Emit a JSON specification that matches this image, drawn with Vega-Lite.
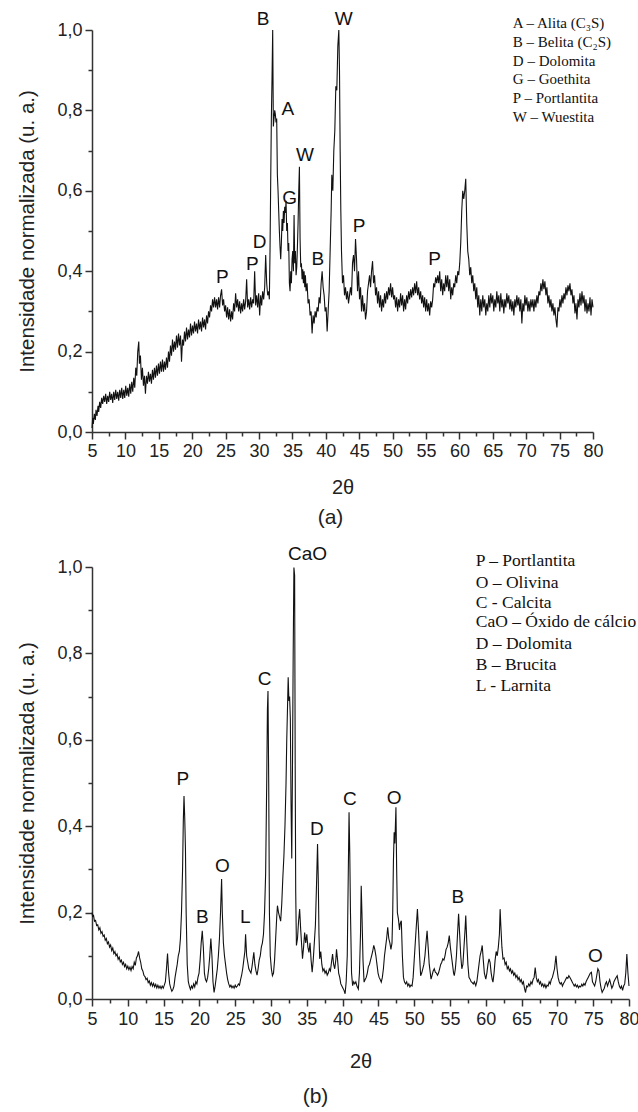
{
"$schema": "https://vega.github.io/schema/vega-lite/v6.json",
"background": "white",
"padding": {"left": 17, "top": 10, "right": 0, "bottom": 0},
"spacing": 17,
"config": {
 "view": {"stroke": null},
 "axis": {"grid": false, "domainColor": "#333", "tickColor": "#333", "domainWidth": 1.5, "tickWidth": 1.5, "labelColor": "#222", "labelFont": "Liberation Sans", "labelFontSize": 18, "titleFont": "Liberation Sans", "titleFontSize": 20, "titleFontWeight": "normal", "titleColor": "#222", "labelFlush": false, "labelOverlap": false},
 "title": {"font": "Liberation Sans", "fontSize": 21, "fontWeight": "normal", "color": "#222"}
},
"datasets": {
"a": [
{"x":5.0,"y":0.01},{"x":5.1,"y":0.035},{"x":5.2,"y":0.02},{"x":5.35,"y":0.045},{"x":5.5,"y":0.03},{"x":5.6,"y":0.055},{"x":5.75,"y":0.04},{"x":5.9,"y":0.065},{"x":6.0,"y":0.05},{"x":6.15,"y":0.075},{"x":6.3,"y":0.06},{"x":6.45,"y":0.085},{"x":6.6,"y":0.07},{"x":6.75,"y":0.09},{"x":6.9,"y":0.075},{"x":7.05,"y":0.095},{"x":7.2,"y":0.07},{"x":7.35,"y":0.09},{"x":7.5,"y":0.075},{"x":7.65,"y":0.1},{"x":7.8,"y":0.08},{"x":7.95,"y":0.095},{"x":8.1,"y":0.072},{"x":8.25,"y":0.1},{"x":8.4,"y":0.08},{"x":8.55,"y":0.105},{"x":8.7,"y":0.082},{"x":8.85,"y":0.1},{"x":9.0,"y":0.078},{"x":9.15,"y":0.105},{"x":9.3,"y":0.085},{"x":9.45,"y":0.11},{"x":9.6,"y":0.082},{"x":9.75,"y":0.105},{"x":9.9,"y":0.085},{"x":10.05,"y":0.115},{"x":10.2,"y":0.09},{"x":10.35,"y":0.11},{"x":10.5,"y":0.088},{"x":10.65,"y":0.12},{"x":10.8,"y":0.095},{"x":10.95,"y":0.125},{"x":11.1,"y":0.1},{"x":11.25,"y":0.135},{"x":11.4,"y":0.11},{"x":11.55,"y":0.16},{"x":11.7,"y":0.14},{"x":11.85,"y":0.2},{"x":12.0,"y":0.225},{"x":12.1,"y":0.17},{"x":12.25,"y":0.19},{"x":12.4,"y":0.13},{"x":12.55,"y":0.16},{"x":12.7,"y":0.115},{"x":12.85,"y":0.14},{"x":13.0,"y":0.095},{"x":13.15,"y":0.14},{"x":13.3,"y":0.12},{"x":13.45,"y":0.15},{"x":13.6,"y":0.125},{"x":13.75,"y":0.145},{"x":13.9,"y":0.12},{"x":14.05,"y":0.155},{"x":14.2,"y":0.13},{"x":14.35,"y":0.16},{"x":14.5,"y":0.135},{"x":14.65,"y":0.165},{"x":14.8,"y":0.14},{"x":14.95,"y":0.17},{"x":15.1,"y":0.145},{"x":15.25,"y":0.175},{"x":15.4,"y":0.15},{"x":15.55,"y":0.18},{"x":15.7,"y":0.15},{"x":15.85,"y":0.175},{"x":16.0,"y":0.155},{"x":16.15,"y":0.185},{"x":16.3,"y":0.16},{"x":16.45,"y":0.2},{"x":16.6,"y":0.175},{"x":16.75,"y":0.215},{"x":16.9,"y":0.19},{"x":17.05,"y":0.23},{"x":17.2,"y":0.2},{"x":17.35,"y":0.225},{"x":17.5,"y":0.205},{"x":17.65,"y":0.24},{"x":17.8,"y":0.21},{"x":17.95,"y":0.245},{"x":18.1,"y":0.215},{"x":18.25,"y":0.24},{"x":18.4,"y":0.175},{"x":18.55,"y":0.23},{"x":18.7,"y":0.215},{"x":18.85,"y":0.25},{"x":19.0,"y":0.225},{"x":19.15,"y":0.26},{"x":19.3,"y":0.23},{"x":19.45,"y":0.255},{"x":19.6,"y":0.235},{"x":19.75,"y":0.27},{"x":19.9,"y":0.24},{"x":20.05,"y":0.265},{"x":20.2,"y":0.245},{"x":20.35,"y":0.275},{"x":20.5,"y":0.25},{"x":20.65,"y":0.27},{"x":20.8,"y":0.245},{"x":20.95,"y":0.28},{"x":21.1,"y":0.255},{"x":21.25,"y":0.275},{"x":21.4,"y":0.25},{"x":21.55,"y":0.285},{"x":21.7,"y":0.26},{"x":21.85,"y":0.28},{"x":22.0,"y":0.255},{"x":22.15,"y":0.29},{"x":22.3,"y":0.27},{"x":22.45,"y":0.3},{"x":22.6,"y":0.285},{"x":22.75,"y":0.315},{"x":22.9,"y":0.3},{"x":23.05,"y":0.33},{"x":23.2,"y":0.31},{"x":23.35,"y":0.335},{"x":23.5,"y":0.31},{"x":23.65,"y":0.33},{"x":23.8,"y":0.305},{"x":23.95,"y":0.335},{"x":24.1,"y":0.31},{"x":24.25,"y":0.34},{"x":24.4,"y":0.355},{"x":24.55,"y":0.315},{"x":24.7,"y":0.33},{"x":24.85,"y":0.3},{"x":25.0,"y":0.315},{"x":25.15,"y":0.285},{"x":25.3,"y":0.31},{"x":25.45,"y":0.28},{"x":25.6,"y":0.305},{"x":25.75,"y":0.275},{"x":25.9,"y":0.3},{"x":26.05,"y":0.28},{"x":26.2,"y":0.32},{"x":26.35,"y":0.3},{"x":26.5,"y":0.345},{"x":26.65,"y":0.31},{"x":26.8,"y":0.33},{"x":26.95,"y":0.3},{"x":27.1,"y":0.325},{"x":27.25,"y":0.295},{"x":27.4,"y":0.32},{"x":27.55,"y":0.3},{"x":27.7,"y":0.33},{"x":27.85,"y":0.305},{"x":28.0,"y":0.325},{"x":28.15,"y":0.38},{"x":28.3,"y":0.31},{"x":28.45,"y":0.33},{"x":28.6,"y":0.305},{"x":28.75,"y":0.335},{"x":28.9,"y":0.31},{"x":29.05,"y":0.33},{"x":29.2,"y":0.32},{"x":29.35,"y":0.4},{"x":29.5,"y":0.315},{"x":29.65,"y":0.34},{"x":29.8,"y":0.31},{"x":29.95,"y":0.345},{"x":30.1,"y":0.29},{"x":30.25,"y":0.34},{"x":30.4,"y":0.315},{"x":30.55,"y":0.35},{"x":30.7,"y":0.33},{"x":30.85,"y":0.36},{"x":31.0,"y":0.44},{"x":31.15,"y":0.37},{"x":31.3,"y":0.34},{"x":31.45,"y":0.35},{"x":31.55,"y":0.33},{"x":31.65,"y":0.45},{"x":31.75,"y":0.62},{"x":31.85,"y":0.78},{"x":31.95,"y":0.88},{"x":32.05,"y":1.0},{"x":32.15,"y":0.76},{"x":32.25,"y":0.78},{"x":32.35,"y":0.8},{"x":32.45,"y":0.79},{"x":32.55,"y":0.77},{"x":32.65,"y":0.78},{"x":32.75,"y":0.64},{"x":32.85,"y":0.6},{"x":32.95,"y":0.55},{"x":33.05,"y":0.5},{"x":33.15,"y":0.46},{"x":33.25,"y":0.43},{"x":33.35,"y":0.47},{"x":33.45,"y":0.53},{"x":33.55,"y":0.5},{"x":33.65,"y":0.55},{"x":33.75,"y":0.52},{"x":33.85,"y":0.56},{"x":33.95,"y":0.545},{"x":34.05,"y":0.575},{"x":34.15,"y":0.5},{"x":34.25,"y":0.52},{"x":34.35,"y":0.45},{"x":34.45,"y":0.47},{"x":34.55,"y":0.37},{"x":34.65,"y":0.35},{"x":34.75,"y":0.4},{"x":34.85,"y":0.37},{"x":34.95,"y":0.43},{"x":35.05,"y":0.45},{"x":35.15,"y":0.4},{"x":35.25,"y":0.54},{"x":35.35,"y":0.42},{"x":35.45,"y":0.45},{"x":35.55,"y":0.39},{"x":35.65,"y":0.41},{"x":35.75,"y":0.46},{"x":35.85,"y":0.52},{"x":35.95,"y":0.6},{"x":36.05,"y":0.66},{"x":36.15,"y":0.48},{"x":36.25,"y":0.41},{"x":36.35,"y":0.42},{"x":36.45,"y":0.38},{"x":36.55,"y":0.405},{"x":36.65,"y":0.37},{"x":36.75,"y":0.4},{"x":36.85,"y":0.36},{"x":36.95,"y":0.39},{"x":37.05,"y":0.35},{"x":37.2,"y":0.37},{"x":37.35,"y":0.32},{"x":37.5,"y":0.33},{"x":37.65,"y":0.29},{"x":37.8,"y":0.3},{"x":37.95,"y":0.245},{"x":38.1,"y":0.29},{"x":38.25,"y":0.27},{"x":38.4,"y":0.3},{"x":38.55,"y":0.285},{"x":38.7,"y":0.31},{"x":38.85,"y":0.3},{"x":39.0,"y":0.335},{"x":39.15,"y":0.32},{"x":39.3,"y":0.37},{"x":39.45,"y":0.4},{"x":39.6,"y":0.36},{"x":39.75,"y":0.34},{"x":39.9,"y":0.3},{"x":40.05,"y":0.31},{"x":40.2,"y":0.25},{"x":40.35,"y":0.3},{"x":40.5,"y":0.35},{"x":40.65,"y":0.45},{"x":40.8,"y":0.55},{"x":40.9,"y":0.64},{"x":41.05,"y":0.6},{"x":41.2,"y":0.7},{"x":41.35,"y":0.75},{"x":41.5,"y":0.86},{"x":41.65,"y":0.85},{"x":41.8,"y":0.96},{"x":41.95,"y":1.0},{"x":42.05,"y":0.9},{"x":42.15,"y":0.7},{"x":42.25,"y":0.55},{"x":42.35,"y":0.45},{"x":42.5,"y":0.37},{"x":42.65,"y":0.39},{"x":42.8,"y":0.34},{"x":42.95,"y":0.36},{"x":43.1,"y":0.33},{"x":43.25,"y":0.35},{"x":43.4,"y":0.32},{"x":43.55,"y":0.34},{"x":43.7,"y":0.36},{"x":43.85,"y":0.34},{"x":44.0,"y":0.42},{"x":44.15,"y":0.44},{"x":44.3,"y":0.4},{"x":44.45,"y":0.48},{"x":44.6,"y":0.43},{"x":44.75,"y":0.35},{"x":44.9,"y":0.4},{"x":45.05,"y":0.33},{"x":45.2,"y":0.36},{"x":45.35,"y":0.3},{"x":45.5,"y":0.34},{"x":45.65,"y":0.3},{"x":45.8,"y":0.32},{"x":45.95,"y":0.28},{"x":46.1,"y":0.3},{"x":46.25,"y":0.35},{"x":46.4,"y":0.37},{"x":46.55,"y":0.39},{"x":46.7,"y":0.36},{"x":46.85,"y":0.4},{"x":47.0,"y":0.425},{"x":47.15,"y":0.37},{"x":47.3,"y":0.39},{"x":47.45,"y":0.34},{"x":47.6,"y":0.36},{"x":47.75,"y":0.32},{"x":47.9,"y":0.35},{"x":48.05,"y":0.31},{"x":48.2,"y":0.34},{"x":48.35,"y":0.3},{"x":48.5,"y":0.33},{"x":48.65,"y":0.31},{"x":48.8,"y":0.345},{"x":48.95,"y":0.32},{"x":49.1,"y":0.35},{"x":49.25,"y":0.33},{"x":49.4,"y":0.36},{"x":49.55,"y":0.34},{"x":49.7,"y":0.37},{"x":49.85,"y":0.335},{"x":50.0,"y":0.36},{"x":50.15,"y":0.33},{"x":50.3,"y":0.34},{"x":50.45,"y":0.31},{"x":50.6,"y":0.335},{"x":50.75,"y":0.3},{"x":50.9,"y":0.33},{"x":51.05,"y":0.31},{"x":51.2,"y":0.345},{"x":51.35,"y":0.315},{"x":51.5,"y":0.34},{"x":51.65,"y":0.3},{"x":51.8,"y":0.33},{"x":51.95,"y":0.305},{"x":52.1,"y":0.34},{"x":52.25,"y":0.32},{"x":52.4,"y":0.35},{"x":52.55,"y":0.33},{"x":52.7,"y":0.355},{"x":52.85,"y":0.335},{"x":53.0,"y":0.36},{"x":53.15,"y":0.34},{"x":53.3,"y":0.37},{"x":53.45,"y":0.345},{"x":53.6,"y":0.375},{"x":53.75,"y":0.34},{"x":53.9,"y":0.36},{"x":54.05,"y":0.33},{"x":54.2,"y":0.35},{"x":54.35,"y":0.32},{"x":54.5,"y":0.34},{"x":54.65,"y":0.31},{"x":54.8,"y":0.335},{"x":54.95,"y":0.3},{"x":55.1,"y":0.33},{"x":55.25,"y":0.3},{"x":55.4,"y":0.32},{"x":55.55,"y":0.29},{"x":55.7,"y":0.325},{"x":55.85,"y":0.31},{"x":56.0,"y":0.33},{"x":56.15,"y":0.37},{"x":56.3,"y":0.36},{"x":56.45,"y":0.385},{"x":56.6,"y":0.37},{"x":56.75,"y":0.39},{"x":56.9,"y":0.37},{"x":57.05,"y":0.4},{"x":57.2,"y":0.35},{"x":57.35,"y":0.38},{"x":57.5,"y":0.34},{"x":57.65,"y":0.37},{"x":57.8,"y":0.35},{"x":57.95,"y":0.39},{"x":58.1,"y":0.36},{"x":58.25,"y":0.39},{"x":58.4,"y":0.35},{"x":58.55,"y":0.38},{"x":58.7,"y":0.33},{"x":58.85,"y":0.36},{"x":59.0,"y":0.34},{"x":59.15,"y":0.37},{"x":59.3,"y":0.36},{"x":59.45,"y":0.39},{"x":59.6,"y":0.37},{"x":59.75,"y":0.4},{"x":59.9,"y":0.39},{"x":60.05,"y":0.42},{"x":60.2,"y":0.47},{"x":60.35,"y":0.55},{"x":60.5,"y":0.6},{"x":60.65,"y":0.58},{"x":60.8,"y":0.6},{"x":60.95,"y":0.63},{"x":61.1,"y":0.52},{"x":61.25,"y":0.45},{"x":61.4,"y":0.43},{"x":61.55,"y":0.39},{"x":61.7,"y":0.41},{"x":61.85,"y":0.37},{"x":62.0,"y":0.39},{"x":62.15,"y":0.35},{"x":62.3,"y":0.37},{"x":62.45,"y":0.33},{"x":62.6,"y":0.36},{"x":62.75,"y":0.31},{"x":62.9,"y":0.34},{"x":63.05,"y":0.29},{"x":63.2,"y":0.33},{"x":63.35,"y":0.3},{"x":63.5,"y":0.34},{"x":63.65,"y":0.31},{"x":63.8,"y":0.33},{"x":63.95,"y":0.29},{"x":64.1,"y":0.32},{"x":64.25,"y":0.3},{"x":64.4,"y":0.34},{"x":64.55,"y":0.31},{"x":64.7,"y":0.345},{"x":64.85,"y":0.32},{"x":65.0,"y":0.34},{"x":65.15,"y":0.3},{"x":65.3,"y":0.33},{"x":65.45,"y":0.31},{"x":65.6,"y":0.35},{"x":65.75,"y":0.32},{"x":65.9,"y":0.34},{"x":66.05,"y":0.3},{"x":66.2,"y":0.345},{"x":66.35,"y":0.31},{"x":66.5,"y":0.33},{"x":66.65,"y":0.295},{"x":66.8,"y":0.33},{"x":66.95,"y":0.31},{"x":67.1,"y":0.345},{"x":67.25,"y":0.32},{"x":67.4,"y":0.34},{"x":67.55,"y":0.305},{"x":67.7,"y":0.33},{"x":67.85,"y":0.3},{"x":68.0,"y":0.325},{"x":68.15,"y":0.29},{"x":68.3,"y":0.33},{"x":68.45,"y":0.31},{"x":68.6,"y":0.34},{"x":68.75,"y":0.315},{"x":68.9,"y":0.335},{"x":69.05,"y":0.3},{"x":69.2,"y":0.33},{"x":69.35,"y":0.27},{"x":69.5,"y":0.32},{"x":69.65,"y":0.3},{"x":69.8,"y":0.34},{"x":69.95,"y":0.315},{"x":70.1,"y":0.335},{"x":70.25,"y":0.3},{"x":70.4,"y":0.325},{"x":70.55,"y":0.3},{"x":70.7,"y":0.33},{"x":70.85,"y":0.31},{"x":71.0,"y":0.33},{"x":71.15,"y":0.3},{"x":71.3,"y":0.33},{"x":71.45,"y":0.31},{"x":71.6,"y":0.34},{"x":71.75,"y":0.32},{"x":71.9,"y":0.35},{"x":72.05,"y":0.34},{"x":72.2,"y":0.37},{"x":72.35,"y":0.35},{"x":72.5,"y":0.38},{"x":72.65,"y":0.355},{"x":72.8,"y":0.375},{"x":72.95,"y":0.34},{"x":73.1,"y":0.36},{"x":73.25,"y":0.32},{"x":73.4,"y":0.34},{"x":73.55,"y":0.31},{"x":73.7,"y":0.33},{"x":73.85,"y":0.3},{"x":74.0,"y":0.32},{"x":74.15,"y":0.29},{"x":74.3,"y":0.31},{"x":74.45,"y":0.28},{"x":74.6,"y":0.26},{"x":74.75,"y":0.31},{"x":74.9,"y":0.3},{"x":75.05,"y":0.33},{"x":75.2,"y":0.31},{"x":75.35,"y":0.34},{"x":75.5,"y":0.32},{"x":75.65,"y":0.345},{"x":75.8,"y":0.33},{"x":75.95,"y":0.36},{"x":76.1,"y":0.34},{"x":76.25,"y":0.365},{"x":76.4,"y":0.35},{"x":76.55,"y":0.37},{"x":76.7,"y":0.34},{"x":76.85,"y":0.355},{"x":77.0,"y":0.32},{"x":77.15,"y":0.34},{"x":77.3,"y":0.295},{"x":77.45,"y":0.32},{"x":77.6,"y":0.28},{"x":77.75,"y":0.33},{"x":77.9,"y":0.31},{"x":78.05,"y":0.345},{"x":78.2,"y":0.315},{"x":78.35,"y":0.35},{"x":78.5,"y":0.32},{"x":78.65,"y":0.34},{"x":78.8,"y":0.3},{"x":78.95,"y":0.33},{"x":79.1,"y":0.295},{"x":79.25,"y":0.32},{"x":79.4,"y":0.3},{"x":79.55,"y":0.335},{"x":79.7,"y":0.29},{"x":79.85,"y":0.33},{"x":80.0,"y":0.31}
],
"b": [
{"x":5.0,"y":0.2},{"x":5.1,"y":0.19},{"x":5.2,"y":0.195},{"x":5.35,"y":0.18},{"x":5.5,"y":0.182},{"x":5.65,"y":0.17},{"x":5.8,"y":0.172},{"x":5.95,"y":0.16},{"x":6.1,"y":0.165},{"x":6.25,"y":0.152},{"x":6.4,"y":0.156},{"x":6.55,"y":0.145},{"x":6.7,"y":0.148},{"x":6.85,"y":0.136},{"x":7.0,"y":0.14},{"x":7.15,"y":0.128},{"x":7.3,"y":0.132},{"x":7.45,"y":0.12},{"x":7.6,"y":0.125},{"x":7.75,"y":0.112},{"x":7.9,"y":0.118},{"x":8.05,"y":0.105},{"x":8.2,"y":0.11},{"x":8.35,"y":0.1},{"x":8.5,"y":0.104},{"x":8.65,"y":0.092},{"x":8.8,"y":0.097},{"x":8.95,"y":0.086},{"x":9.1,"y":0.09},{"x":9.25,"y":0.08},{"x":9.4,"y":0.085},{"x":9.55,"y":0.075},{"x":9.7,"y":0.08},{"x":9.85,"y":0.07},{"x":10.0,"y":0.076},{"x":10.15,"y":0.068},{"x":10.3,"y":0.074},{"x":10.45,"y":0.066},{"x":10.6,"y":0.075},{"x":10.75,"y":0.07},{"x":10.9,"y":0.085},{"x":11.05,"y":0.078},{"x":11.2,"y":0.095},{"x":11.35,"y":0.1},{"x":11.5,"y":0.11},{"x":11.65,"y":0.095},{"x":11.8,"y":0.085},{"x":11.95,"y":0.07},{"x":12.1,"y":0.065},{"x":12.25,"y":0.055},{"x":12.4,"y":0.052},{"x":12.55,"y":0.045},{"x":12.7,"y":0.048},{"x":12.85,"y":0.038},{"x":13.0,"y":0.042},{"x":13.15,"y":0.032},{"x":13.3,"y":0.038},{"x":13.45,"y":0.03},{"x":13.6,"y":0.036},{"x":13.75,"y":0.028},{"x":13.9,"y":0.034},{"x":14.05,"y":0.026},{"x":14.2,"y":0.032},{"x":14.35,"y":0.025},{"x":14.5,"y":0.03},{"x":14.65,"y":0.024},{"x":14.8,"y":0.03},{"x":14.95,"y":0.025},{"x":15.1,"y":0.032},{"x":15.25,"y":0.04},{"x":15.4,"y":0.07},{"x":15.55,"y":0.105},{"x":15.7,"y":0.06},{"x":15.85,"y":0.035},{"x":16.0,"y":0.025},{"x":16.15,"y":0.018},{"x":16.3,"y":0.022},{"x":16.45,"y":0.03},{"x":16.6,"y":0.05},{"x":16.75,"y":0.065},{"x":16.9,"y":0.08},{"x":17.05,"y":0.1},{"x":17.2,"y":0.11},{"x":17.35,"y":0.14},{"x":17.5,"y":0.2},{"x":17.65,"y":0.3},{"x":17.75,"y":0.41},{"x":17.85,"y":0.47},{"x":17.95,"y":0.42},{"x":18.05,"y":0.35},{"x":18.15,"y":0.2},{"x":18.3,"y":0.08},{"x":18.45,"y":0.04},{"x":18.6,"y":0.03},{"x":18.75,"y":0.022},{"x":18.9,"y":0.03},{"x":19.05,"y":0.025},{"x":19.2,"y":0.035},{"x":19.35,"y":0.028},{"x":19.5,"y":0.04},{"x":19.65,"y":0.035},{"x":19.8,"y":0.05},{"x":19.95,"y":0.06},{"x":20.1,"y":0.09},{"x":20.25,"y":0.13},{"x":20.4,"y":0.158},{"x":20.55,"y":0.12},{"x":20.7,"y":0.06},{"x":20.85,"y":0.045},{"x":21.0,"y":0.04},{"x":21.15,"y":0.05},{"x":21.3,"y":0.07},{"x":21.45,"y":0.1},{"x":21.6,"y":0.14},{"x":21.75,"y":0.1},{"x":21.9,"y":0.04},{"x":22.05,"y":0.015},{"x":22.2,"y":0.03},{"x":22.35,"y":0.05},{"x":22.5,"y":0.07},{"x":22.65,"y":0.1},{"x":22.8,"y":0.14},{"x":22.95,"y":0.2},{"x":23.1,"y":0.278},{"x":23.2,"y":0.2},{"x":23.35,"y":0.13},{"x":23.5,"y":0.1},{"x":23.65,"y":0.08},{"x":23.8,"y":0.06},{"x":23.95,"y":0.045},{"x":24.1,"y":0.035},{"x":24.25,"y":0.028},{"x":24.4,"y":0.032},{"x":24.55,"y":0.026},{"x":24.7,"y":0.03},{"x":24.85,"y":0.025},{"x":25.0,"y":0.032},{"x":25.15,"y":0.027},{"x":25.3,"y":0.03},{"x":25.45,"y":0.035},{"x":25.6,"y":0.032},{"x":25.75,"y":0.045},{"x":25.9,"y":0.055},{"x":26.05,"y":0.07},{"x":26.2,"y":0.09},{"x":26.35,"y":0.11},{"x":26.45,"y":0.15},{"x":26.6,"y":0.1},{"x":26.75,"y":0.085},{"x":26.9,"y":0.07},{"x":27.05,"y":0.065},{"x":27.2,"y":0.06},{"x":27.35,"y":0.075},{"x":27.5,"y":0.095},{"x":27.6,"y":0.108},{"x":27.75,"y":0.08},{"x":27.9,"y":0.065},{"x":28.05,"y":0.055},{"x":28.2,"y":0.07},{"x":28.35,"y":0.09},{"x":28.5,"y":0.1},{"x":28.65,"y":0.12},{"x":28.8,"y":0.13},{"x":28.95,"y":0.15},{"x":29.1,"y":0.2},{"x":29.25,"y":0.29},{"x":29.4,"y":0.5},{"x":29.5,"y":0.67},{"x":29.58,"y":0.713},{"x":29.68,"y":0.5},{"x":29.78,"y":0.2},{"x":29.9,"y":0.1},{"x":30.05,"y":0.07},{"x":30.2,"y":0.054},{"x":30.35,"y":0.06},{"x":30.5,"y":0.09},{"x":30.65,"y":0.14},{"x":30.8,"y":0.19},{"x":30.9,"y":0.216},{"x":31.05,"y":0.2},{"x":31.2,"y":0.19},{"x":31.35,"y":0.18},{"x":31.5,"y":0.22},{"x":31.65,"y":0.28},{"x":31.8,"y":0.33},{"x":31.95,"y":0.4},{"x":32.1,"y":0.5},{"x":32.2,"y":0.6},{"x":32.3,"y":0.67},{"x":32.4,"y":0.745},{"x":32.5,"y":0.69},{"x":32.6,"y":0.7},{"x":32.7,"y":0.65},{"x":32.8,"y":0.45},{"x":32.9,"y":0.325},{"x":33.0,"y":0.54},{"x":33.1,"y":0.8},{"x":33.2,"y":0.999},{"x":33.3,"y":0.98},{"x":33.38,"y":0.54},{"x":33.45,"y":0.25},{"x":33.55,"y":0.124},{"x":33.7,"y":0.14},{"x":33.85,"y":0.18},{"x":34.0,"y":0.208},{"x":34.15,"y":0.16},{"x":34.3,"y":0.12},{"x":34.4,"y":0.093},{"x":34.55,"y":0.12},{"x":34.7,"y":0.154},{"x":34.85,"y":0.13},{"x":35.0,"y":0.15},{"x":35.15,"y":0.12},{"x":35.3,"y":0.108},{"x":35.45,"y":0.13},{"x":35.6,"y":0.09},{"x":35.75,"y":0.062},{"x":35.9,"y":0.09},{"x":36.05,"y":0.13},{"x":36.2,"y":0.17},{"x":36.35,"y":0.26},{"x":36.5,"y":0.359},{"x":36.6,"y":0.28},{"x":36.7,"y":0.15},{"x":36.8,"y":0.093},{"x":36.95,"y":0.11},{"x":37.1,"y":0.08},{"x":37.25,"y":0.065},{"x":37.4,"y":0.07},{"x":37.55,"y":0.06},{"x":37.7,"y":0.065},{"x":37.85,"y":0.055},{"x":38.0,"y":0.06},{"x":38.15,"y":0.07},{"x":38.3,"y":0.065},{"x":38.45,"y":0.085},{"x":38.6,"y":0.104},{"x":38.75,"y":0.08},{"x":38.9,"y":0.07},{"x":39.05,"y":0.09},{"x":39.15,"y":0.115},{"x":39.3,"y":0.09},{"x":39.45,"y":0.06},{"x":39.6,"y":0.05},{"x":39.75,"y":0.035},{"x":39.9,"y":0.03},{"x":40.05,"y":0.025},{"x":40.2,"y":0.02},{"x":40.35,"y":0.012},{"x":40.5,"y":0.04},{"x":40.65,"y":0.1},{"x":40.8,"y":0.3},{"x":40.9,"y":0.432},{"x":41.0,"y":0.34},{"x":41.1,"y":0.2},{"x":41.25,"y":0.06},{"x":41.4,"y":0.031},{"x":41.55,"y":0.04},{"x":41.7,"y":0.035},{"x":41.85,"y":0.04},{"x":42.0,"y":0.03},{"x":42.2,"y":0.023},{"x":42.35,"y":0.06},{"x":42.5,"y":0.15},{"x":42.6,"y":0.262},{"x":42.7,"y":0.2},{"x":42.85,"y":0.09},{"x":43.0,"y":0.039},{"x":43.15,"y":0.045},{"x":43.3,"y":0.05},{"x":43.45,"y":0.06},{"x":43.6,"y":0.075},{"x":43.75,"y":0.08},{"x":43.9,"y":0.09},{"x":44.05,"y":0.1},{"x":44.2,"y":0.11},{"x":44.35,"y":0.124},{"x":44.5,"y":0.115},{"x":44.65,"y":0.1},{"x":44.8,"y":0.08},{"x":44.95,"y":0.06},{"x":45.1,"y":0.05},{"x":45.25,"y":0.045},{"x":45.4,"y":0.039},{"x":45.55,"y":0.05},{"x":45.7,"y":0.07},{"x":45.85,"y":0.1},{"x":46.0,"y":0.12},{"x":46.15,"y":0.14},{"x":46.3,"y":0.166},{"x":46.45,"y":0.14},{"x":46.6,"y":0.13},{"x":46.75,"y":0.115},{"x":46.9,"y":0.13},{"x":47.0,"y":0.2},{"x":47.1,"y":0.32},{"x":47.2,"y":0.386},{"x":47.3,"y":0.36},{"x":47.45,"y":0.444},{"x":47.55,"y":0.3},{"x":47.65,"y":0.2},{"x":47.8,"y":0.185},{"x":47.95,"y":0.16},{"x":48.05,"y":0.175},{"x":48.2,"y":0.181},{"x":48.35,"y":0.1},{"x":48.5,"y":0.05},{"x":48.65,"y":0.039},{"x":48.8,"y":0.035},{"x":48.95,"y":0.04},{"x":49.1,"y":0.03},{"x":49.25,"y":0.035},{"x":49.4,"y":0.028},{"x":49.55,"y":0.032},{"x":49.7,"y":0.03},{"x":49.85,"y":0.05},{"x":50.0,"y":0.09},{"x":50.15,"y":0.13},{"x":50.3,"y":0.17},{"x":50.45,"y":0.208},{"x":50.6,"y":0.16},{"x":50.75,"y":0.1},{"x":50.9,"y":0.054},{"x":51.05,"y":0.06},{"x":51.2,"y":0.07},{"x":51.35,"y":0.08},{"x":51.5,"y":0.1},{"x":51.65,"y":0.13},{"x":51.8,"y":0.158},{"x":51.95,"y":0.12},{"x":52.1,"y":0.08},{"x":52.25,"y":0.06},{"x":52.35,"y":0.046},{"x":52.5,"y":0.055},{"x":52.65,"y":0.065},{"x":52.8,"y":0.07},{"x":52.95,"y":0.062},{"x":53.1,"y":0.06},{"x":53.25,"y":0.055},{"x":53.4,"y":0.06},{"x":53.55,"y":0.07},{"x":53.7,"y":0.08},{"x":53.85,"y":0.085},{"x":54.0,"y":0.093},{"x":54.15,"y":0.09},{"x":54.3,"y":0.1},{"x":54.45,"y":0.115},{"x":54.6,"y":0.12},{"x":54.75,"y":0.13},{"x":54.9,"y":0.147},{"x":55.05,"y":0.12},{"x":55.2,"y":0.1},{"x":55.35,"y":0.08},{"x":55.5,"y":0.06},{"x":55.6,"y":0.054},{"x":55.75,"y":0.07},{"x":55.9,"y":0.1},{"x":56.05,"y":0.15},{"x":56.2,"y":0.197},{"x":56.35,"y":0.15},{"x":56.5,"y":0.1},{"x":56.65,"y":0.07},{"x":56.8,"y":0.08},{"x":56.95,"y":0.12},{"x":57.1,"y":0.16},{"x":57.2,"y":0.193},{"x":57.35,"y":0.13},{"x":57.5,"y":0.08},{"x":57.65,"y":0.05},{"x":57.8,"y":0.046},{"x":57.95,"y":0.04},{"x":58.1,"y":0.038},{"x":58.25,"y":0.035},{"x":58.4,"y":0.04},{"x":58.6,"y":0.031},{"x":58.75,"y":0.04},{"x":58.9,"y":0.06},{"x":59.05,"y":0.08},{"x":59.2,"y":0.1},{"x":59.35,"y":0.11},{"x":59.5,"y":0.124},{"x":59.65,"y":0.09},{"x":59.8,"y":0.06},{"x":60.0,"y":0.046},{"x":60.15,"y":0.06},{"x":60.3,"y":0.08},{"x":60.45,"y":0.093},{"x":60.6,"y":0.085},{"x":60.75,"y":0.06},{"x":60.9,"y":0.045},{"x":61.0,"y":0.039},{"x":61.15,"y":0.06},{"x":61.3,"y":0.09},{"x":61.45,"y":0.11},{"x":61.6,"y":0.1},{"x":61.75,"y":0.12},{"x":61.9,"y":0.15},{"x":62.0,"y":0.208},{"x":62.1,"y":0.17},{"x":62.25,"y":0.12},{"x":62.4,"y":0.093},{"x":62.55,"y":0.095},{"x":62.7,"y":0.08},{"x":62.85,"y":0.085},{"x":63.0,"y":0.07},{"x":63.15,"y":0.075},{"x":63.3,"y":0.065},{"x":63.45,"y":0.07},{"x":63.6,"y":0.06},{"x":63.75,"y":0.065},{"x":63.9,"y":0.055},{"x":64.05,"y":0.06},{"x":64.2,"y":0.05},{"x":64.35,"y":0.055},{"x":64.5,"y":0.045},{"x":64.65,"y":0.05},{"x":64.8,"y":0.04},{"x":64.95,"y":0.045},{"x":65.1,"y":0.035},{"x":65.25,"y":0.04},{"x":65.4,"y":0.025},{"x":65.55,"y":0.015},{"x":65.7,"y":0.03},{"x":65.85,"y":0.028},{"x":66.0,"y":0.035},{"x":66.15,"y":0.03},{"x":66.3,"y":0.04},{"x":66.45,"y":0.035},{"x":66.6,"y":0.045},{"x":66.75,"y":0.05},{"x":66.9,"y":0.073},{"x":67.05,"y":0.05},{"x":67.2,"y":0.04},{"x":67.35,"y":0.045},{"x":67.5,"y":0.035},{"x":67.65,"y":0.04},{"x":67.8,"y":0.03},{"x":67.95,"y":0.035},{"x":68.1,"y":0.028},{"x":68.25,"y":0.034},{"x":68.4,"y":0.026},{"x":68.55,"y":0.032},{"x":68.7,"y":0.03},{"x":68.85,"y":0.04},{"x":69.0,"y":0.035},{"x":69.15,"y":0.045},{"x":69.3,"y":0.05},{"x":69.45,"y":0.06},{"x":69.6,"y":0.07},{"x":69.8,"y":0.1},{"x":69.95,"y":0.07},{"x":70.1,"y":0.05},{"x":70.25,"y":0.04},{"x":70.4,"y":0.035},{"x":70.55,"y":0.038},{"x":70.7,"y":0.03},{"x":70.85,"y":0.036},{"x":71.0,"y":0.04},{"x":71.15,"y":0.045},{"x":71.3,"y":0.05},{"x":71.45,"y":0.048},{"x":71.6,"y":0.054},{"x":71.75,"y":0.05},{"x":71.9,"y":0.045},{"x":72.05,"y":0.04},{"x":72.2,"y":0.035},{"x":72.35,"y":0.03},{"x":72.5,"y":0.034},{"x":72.65,"y":0.028},{"x":72.8,"y":0.032},{"x":72.95,"y":0.026},{"x":73.1,"y":0.03},{"x":73.25,"y":0.028},{"x":73.4,"y":0.034},{"x":73.55,"y":0.03},{"x":73.7,"y":0.036},{"x":73.85,"y":0.032},{"x":74.0,"y":0.04},{"x":74.15,"y":0.045},{"x":74.3,"y":0.05},{"x":74.45,"y":0.055},{"x":74.6,"y":0.06},{"x":74.75,"y":0.062},{"x":74.9,"y":0.04},{"x":75.05,"y":0.035},{"x":75.2,"y":0.03},{"x":75.35,"y":0.04},{"x":75.5,"y":0.055},{"x":75.65,"y":0.07},{"x":75.8,"y":0.065},{"x":75.95,"y":0.04},{"x":76.1,"y":0.025},{"x":76.25,"y":0.015},{"x":76.4,"y":0.02},{"x":76.55,"y":0.025},{"x":76.7,"y":0.035},{"x":76.85,"y":0.04},{"x":77.0,"y":0.03},{"x":77.15,"y":0.038},{"x":77.3,"y":0.045},{"x":77.45,"y":0.035},{"x":77.6,"y":0.025},{"x":77.75,"y":0.03},{"x":77.9,"y":0.04},{"x":78.05,"y":0.045},{"x":78.2,"y":0.05},{"x":78.35,"y":0.054},{"x":78.5,"y":0.04},{"x":78.65,"y":0.03},{"x":78.8,"y":0.025},{"x":78.95,"y":0.03},{"x":79.1,"y":0.02},{"x":79.25,"y":0.03},{"x":79.4,"y":0.035},{"x":79.55,"y":0.06},{"x":79.7,"y":0.104},{"x":79.85,"y":0.06},{"x":80.0,"y":0.03}
],
"la": [
{"x":30.6,"y":1.027,"t":"B"},{"x":34.3,"y":0.803,"t":"A"},{"x":36.9,"y":0.689,"t":"W"},{"x":34.6,"y":0.582,"t":"G"},{"x":30.1,"y":0.473,"t":"D"},{"x":29.0,"y":0.418,"t":"P"},{"x":24.5,"y":0.386,"t":"P"},{"x":38.8,"y":0.43,"t":"B"},{"x":42.7,"y":1.027,"t":"W"},{"x":45.0,"y":0.512,"t":"P"},{"x":56.3,"y":0.43,"t":"P"}
],
"lb": [
{"x":17.7,"y":0.509,"t":"P"},{"x":20.4,"y":0.19,"t":"B"},{"x":23.2,"y":0.308,"t":"O"},{"x":26.4,"y":0.19,"t":"L"},{"x":29.1,"y":0.741,"t":"C"},{"x":35.1,"y":1.03,"t":"CaO"},{"x":36.4,"y":0.394,"t":"D"},{"x":41.0,"y":0.463,"t":"C"},{"x":47.2,"y":0.465,"t":"O"},{"x":56.1,"y":0.236,"t":"B"},{"x":75.3,"y":0.1,"t":"O"}
],
"ga": [
{"x":68.0,"y":1.017,"t":"A – Alita (C₃S)"},{"x":68.0,"y":0.97,"t":"B – Belita (C₂S)"},{"x":68.0,"y":0.923,"t":"D – Dolomita"},{"x":68.0,"y":0.878,"t":"G – Goethita"},{"x":68.0,"y":0.831,"t":"P – Portlantita"},{"x":68.0,"y":0.784,"t":"W – Wuestita"}
],
"gb": [
{"x":58.6,"y":1.014,"t":"P – Portlantita"},{"x":58.6,"y":0.963,"t":"O – Olivina"},{"x":58.6,"y":0.917,"t":"C - Calcita"},{"x":58.6,"y":0.873,"t":"CaO – Óxido de cálcio"},{"x":58.6,"y":0.822,"t":"D – Dolomita"},{"x":58.6,"y":0.773,"t":"B – Brucita"},{"x":58.6,"y":0.725,"t":"L - Larnita"}
]
},
"vconcat": [
{
 "width": 501, "height": 402,
 "title": {"text": "(a)", "orient": "bottom", "anchor": "middle", "frame": "group", "offset": 10, "dx": -12},
 "encoding": {
  "x": {"field": "x", "type": "quantitative", "scale": {"domain": [5, 80], "nice": false, "zero": false},
   "axis": {"title": "2θ", "values": [5,7.5,10,12.5,15,17.5,20,22.5,25,27.5,30,32.5,35,37.5,40,42.5,45,47.5,50,52.5,55,57.5,60,62.5,65,67.5,70,72.5,75,77.5,80],
    "labelExpr": "datum.value % 5 === 0 ? datum.label : ''",
    "tickSize": {"condition": {"test": "datum.value % 5 === 0", "value": 7}, "value": 4},
    "labelPadding": 3, "titlePadding": 17}},
  "y": {"field": "y", "type": "quantitative", "scale": {"domain": [0, 1], "nice": false},
   "axis": {"title": "Intensidade normalizada (u. a.)", "values": [0,0.1,0.2,0.3,0.4,0.5,0.6,0.7,0.8,0.9,1.0],
    "labelExpr": "round(datum.value*10) % 2 === 0 ? replace(format(datum.value, '.1f'), '.', ',') : ''",
    "tickSize": {"condition": {"test": "round(datum.value*10) % 2 === 0", "value": 7}, "value": 4},
    "labelPadding": 3, "titlePadding": 19, "titleFontSize": 20.5}}
 },
 "layer": [
  {"data": {"name": "a"}, "mark": {"type": "line", "color": "#111", "strokeWidth": 1.1}},
  {"data": {"name": "la"}, "mark": {"type": "text", "font": "Liberation Sans", "fontSize": 19, "color": "#111", "baseline": "middle"},
   "encoding": {"text": {"field": "t"}}},
  {"data": {"name": "ga"}, "mark": {"type": "text", "font": "Liberation Serif", "fontSize": 15, "color": "#111", "align": "left", "baseline": "middle"},
   "encoding": {"text": {"field": "t"}}}
 ]
},
{
 "width": 537, "height": 432,
 "title": {"text": "(b)", "orient": "bottom", "anchor": "middle", "frame": "group", "offset": 15, "dx": -45},
 "encoding": {
  "x": {"field": "x", "type": "quantitative", "scale": {"domain": [5, 80], "nice": false, "zero": false},
   "axis": {"title": "2θ", "values": [5,7.5,10,12.5,15,17.5,20,22.5,25,27.5,30,32.5,35,37.5,40,42.5,45,47.5,50,52.5,55,57.5,60,62.5,65,67.5,70,72.5,75,77.5,80],
    "labelExpr": "datum.value % 5 === 0 ? datum.label : ''",
    "tickSize": {"condition": {"test": "datum.value % 5 === 0", "value": 7}, "value": 4},
    "labelPadding": 4, "titlePadding": 23}},
  "y": {"field": "y", "type": "quantitative", "scale": {"domain": [0, 1], "nice": false},
   "axis": {"title": "Intensidade normalizada (u. a.)", "values": [0,0.1,0.2,0.3,0.4,0.5,0.6,0.7,0.8,0.9,1.0],
    "labelExpr": "round(datum.value*10) % 2 === 0 ? replace(format(datum.value, '.1f'), '.', ',') : ''",
    "tickSize": {"condition": {"test": "round(datum.value*10) % 2 === 0", "value": 7}, "value": 4},
    "labelPadding": 3, "titlePadding": 19, "titleFontSize": 20.5}}
 },
 "layer": [
  {"data": {"name": "b"}, "mark": {"type": "line", "color": "#111", "strokeWidth": 1.1}},
  {"data": {"name": "lb"}, "mark": {"type": "text", "font": "Liberation Sans", "fontSize": 19, "color": "#111", "baseline": "middle"},
   "encoding": {"text": {"field": "t"}}},
  {"data": {"name": "gb"}, "mark": {"type": "text", "font": "Liberation Serif", "fontSize": 17.5, "color": "#111", "align": "left", "baseline": "middle"},
   "encoding": {"text": {"field": "t"}}}
 ]
}
]
}
